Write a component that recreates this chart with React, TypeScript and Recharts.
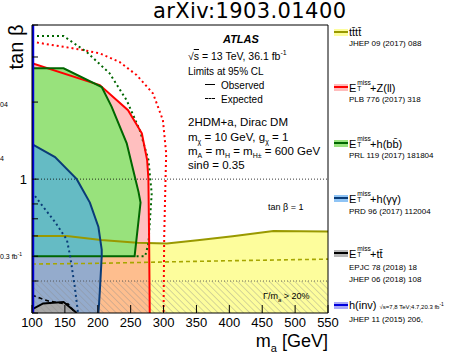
import React from "react";
import { ComposedChart, Area, Line, XAxis, YAxis, ReferenceLine } from "recharts";

// axis ticks
const xTicks = [100, 150, 200, 250, 300, 350, 400, 450, 500, 550];
const xMinorTicks = [
  100, 110, 120, 130, 140, 150, 160, 170, 180, 190, 200, 210, 220, 230, 240, 250, 260, 270, 280, 290, 300,
  310, 320, 330, 340, 350, 360, 370, 380, 390, 400, 410, 420, 430, 440, 450, 460, 470, 480, 490, 500, 510,
  520, 530, 540, 550,
];
const yTicks = [0.3, 0.4, 0.5, 0.6, 0.7, 0.8, 0.9, 1, 2, 3, 4];

// tttt
const ttttObs = [
  { ma: 100, tb: 0.599 }, { ma: 153, tb: 0.599 }, { ma: 205, tb: 0.578 }, { ma: 260, tb: 0.564 },
  { ma: 305, tb: 0.561 }, { ma: 355, tb: 0.578 }, { ma: 405, tb: 0.598 }, { ma: 467, tb: 0.627 },
  { ma: 550, tb: 0.624 },
];
const ttttExp = [
  { ma: 100, tb: 0.466 }, { ma: 200, tb: 0.469 }, { ma: 305, tb: 0.475 }, { ma: 400, tb: 0.48 },
  { ma: 550, tb: 0.487 },
];

// MET + Z(ll)
const zllObs = [
  { ma: 100, tb: 2.84 }, { ma: 203, tb: 2.33 }, { ma: 246, tb: 1.86 }, { ma: 267, tb: 1.51 },
  { ma: 275, tb: 1.19 }, { ma: 277, tb: 1.0 }, { ma: 278, tb: 0.6 }, { ma: 279, tb: 0.3 },
];
const zllExp = [
  { ma: 100, tb: 3.44 }, { ma: 173, tb: 3.21 }, { ma: 203, tb: 3.1 }, { ma: 233, tb: 2.87 },
  { ma: 259, tb: 2.55 }, { ma: 284, tb: 2.16 }, { ma: 299, tb: 1.7 }, { ma: 304, tb: 1.26 },
  { ma: 303, tb: 1.0 }, { ma: 301, tb: 0.6 }, { ma: 300, tb: 0.3 },
];

// MET + h(bb)
const hbbObs = [
  { ma: 100, tb: 2.71 }, { ma: 148, tb: 2.71 }, { ma: 206, tb: 2.29 }, { ma: 221, tb: 1.92 },
  { ma: 244, tb: 1.38 }, { ma: 254, tb: 1.08 }, { ma: 262, tb: 0.89 }, { ma: 265, tb: 0.81 },
  { ma: 256, tb: 0.5 },
];
const hbbClose = [...hbbObs, { ma: 100, tb: 0.5 }];
const hbbExp = [
  { ma: 100, tb: 3.62 }, { ma: 148, tb: 3.62 }, { ma: 183, tb: 3.14 }, { ma: 218, tb: 2.59 },
  { ma: 244, tb: 2.03 }, { ma: 264, tb: 1.55 }, { ma: 277, tb: 1.19 }, { ma: 279, tb: 1.05 },
  { ma: 282, tb: 0.88 }, { ma: 277, tb: 0.56 }, { ma: 272, tb: 0.5 }, { ma: 256, tb: 0.5 },
];

// MET + h(yy)
const hyyObs = [
  { ma: 100, tb: 1.37 }, { ma: 135, tb: 1.22 }, { ma: 168, tb: 1.0 }, { ma: 188, tb: 0.81 },
  { ma: 201, tb: 0.65 }, { ma: 206, tb: 0.53 }, { ma: 206, tb: 0.5 }, { ma: 203, tb: 0.36 },
  { ma: 201, tb: 0.3 },
];
const hyyExp = [
  { ma: 100, tb: 0.89 }, { ma: 117, tb: 0.78 }, { ma: 135, tb: 0.68 }, { ma: 153, tb: 0.58 },
  { ma: 158, tb: 0.5 }, { ma: 165, tb: 0.38 }, { ma: 170, tb: 0.3 },
];

// MET + tt
const ttObs = [
  { ma: 100, tb: 0.31 }, { ma: 117, tb: 0.327 }, { ma: 148, tb: 0.331 }, { ma: 168, tb: 0.3 },
];
const ttExp = [
  { ma: 100, tb: 0.352 }, { ma: 112, tb: 0.343 }, { ma: 125, tb: 0.334 }, { ma: 140, tb: 0.329 },
  { ma: 155, tb: 0.325 }, { ma: 166, tb: 0.3 },
];

// h(inv)
const hinv = [{ ma: 101.5, tb: 0.3 }, { ma: 101.5, tb: 4 }];

// width > 20% region
const wideWidth = [{ ma: 100, tb: 0.4 }, { ma: 550, tb: 0.4 }];

const font = '"Liberation Sans", Arial, Helvetica, sans-serif';

const Txt = ({ x, y, size = 10, children, style }: any) => (
  <div
    style={{
      position: "absolute",
      left: x,
      top: y - size * 0.55,
      fontSize: size,
      lineHeight: 1.1,
      whiteSpace: "nowrap",
      color: "#000",
      ...style,
    }}
  >
    {children}
  </div>
);

const Emiss = () => (
  <span>
    E
    <span style={{ display: "inline-block", position: "relative", width: "1.25em", height: "1em" }}>
      <span style={{ position: "absolute", left: 1, top: "-0.3em", fontSize: "0.6em" }}>miss</span>
      <span style={{ position: "absolute", left: 1, top: "0.6em", fontSize: "0.6em" }}>T</span>
    </span>
  </span>
);

const Patch = ({ y, fill, line }: any) => (
  <div style={{ position: "absolute", left: 334, top: y - 3.5, width: 14, height: 7, background: fill }}>
    <div style={{ position: "absolute", left: 0, top: 2.5, width: 14, height: 2, background: line }} />
  </div>
);

const axisLine = { stroke: "#000", strokeWidth: 1 };

export default function App() {
  return (
    <div
      style={{
        position: "absolute",
        left: 0,
        top: 0,
        width: 460,
        height: 356,
        background: "#fff",
        fontFamily: font,
        overflow: "hidden",
      }}
    >
      <ComposedChart width={460} height={356} margin={{ top: 24, right: 131, bottom: 13, left: 0 }}>
        <defs>
          <pattern id="hatch" patternUnits="userSpaceOnUse" width="4.5" height="4.5" patternTransform="rotate(-45)">
            <line x1="0" y1="0" x2="0" y2="4.5" stroke="#8a8a8a" strokeWidth="0.7" />
          </pattern>
        </defs>
        <XAxis
          dataKey="ma"
          type="number"
          domain={[100, 550]}
          allowDataOverflow
          ticks={xTicks}
          height={30}
          tickSize={-8}
          tickMargin={13}
          axisLine={axisLine}
          tickLine={{ stroke: "#000" }}
          tick={{ fontSize: 13, fill: "#000", fontFamily: font }}
        />
        <XAxis
          xAxisId="top"
          orientation="top"
          dataKey="ma"
          type="number"
          domain={[100, 550]}
          allowDataOverflow
          ticks={xMinorTicks}
          height={1}
          tickSize={-4}
          tick={false}
          axisLine={axisLine}
          tickLine={{ stroke: "#000" }}
        />
        <YAxis
          dataKey="tb"
          type="number"
          scale="log"
          domain={[0.3, 4]}
          allowDataOverflow
          ticks={yTicks}
          width={32}
          tickSize={-6}
          tickMargin={11}
          tickFormatter={(v: number) => (v === 1 ? "1" : "")}
          axisLine={axisLine}
          tickLine={{ stroke: "#000" }}
          tick={{ fontSize: 13, fill: "#000", fontFamily: font }}
        />
        <YAxis
          yAxisId="right"
          orientation="right"
          dataKey="tb"
          type="number"
          scale="log"
          domain={[0.3, 4]}
          allowDataOverflow
          ticks={yTicks}
          width={1}
          tickSize={-6}
          tick={false}
          axisLine={axisLine}
          tickLine={{ stroke: "#000" }}
        />

        <Area data={ttttObs} dataKey="tb" type="linear" baseValue={0.3} fill="#fdfd9c" fillOpacity={1} stroke="none" isAnimationActive={false} />
        <Area data={zllObs} dataKey="tb" type="linear" baseValue={0.3} fill="#ff8080" fillOpacity={0.5} stroke="none" isAnimationActive={false} />
        <Area data={hbbObs} dataKey="tb" type="linear" baseValue={0.5} fill="#98e27c" fillOpacity={1} stroke="none" isAnimationActive={false} />
        <Area data={hyyObs} dataKey="tb" type="linear" baseValue={0.3} fill="#3c9bff" fillOpacity={0.55} stroke="none" isAnimationActive={false} />
        <Area data={ttObs} dataKey="tb" type="linear" baseValue={0.3} fill="#a8a8a8" fillOpacity={1} stroke="none" isAnimationActive={false} />
        <Area data={wideWidth} dataKey="tb" type="linear" baseValue={0.3} fill="url(#hatch)" fillOpacity={1} stroke="#444" strokeWidth={0.8} strokeDasharray="1 2" isAnimationActive={false} />

        <ReferenceLine y={1} stroke="#000" strokeWidth={0.8} strokeDasharray="1 2" />

        <Line data={ttttExp} dataKey="tb" type="linear" stroke="#a6a600" strokeWidth={1.6} strokeDasharray="4 3" dot={false} isAnimationActive={false} />
        <Line data={ttttObs} dataKey="tb" type="linear" stroke="#999900" strokeWidth={2} dot={false} isAnimationActive={false} />
        <Line data={zllExp} dataKey="tb" type="linear" stroke="#ff0000" strokeWidth={2} strokeDasharray="2 3" dot={false} isAnimationActive={false} />
        <Line data={hbbExp} dataKey="tb" type="linear" stroke="#006600" strokeWidth={2} strokeDasharray="2 3" dot={false} isAnimationActive={false} />
        <Line data={zllObs} dataKey="tb" type="linear" stroke="#ff0000" strokeWidth={2} dot={false} isAnimationActive={false} />
        <Line data={hbbClose} dataKey="tb" type="linear" stroke="#006600" strokeWidth={2} dot={false} isAnimationActive={false} />
        <Line data={hyyExp} dataKey="tb" type="linear" stroke="#0a3c78" strokeWidth={2} strokeDasharray="2 3" dot={false} isAnimationActive={false} />
        <Line data={hyyObs} dataKey="tb" type="linear" stroke="#0a3c78" strokeWidth={2} dot={false} isAnimationActive={false} />
        <Line data={ttExp} dataKey="tb" type="linear" stroke="#000" strokeWidth={1.6} strokeDasharray="4 3" dot={false} isAnimationActive={false} />
        <Line data={ttObs} dataKey="tb" type="linear" stroke="#000" strokeWidth={2} dot={false} isAnimationActive={false} />
        <Line data={hinv} dataKey="tb" type="linear" stroke="#0000dd" strokeWidth={2.5} dot={false} isAnimationActive={false} />
      </ComposedChart>

      {/* title and axis labels */}
      <div style={{ position: "absolute", left: 153, top: -1, fontSize: 21, letterSpacing: 0.4, fontFamily: '"DejaVu Sans", sans-serif', whiteSpace: "nowrap" }}>
        arXiv:1903.01400
      </div>
      <div
        style={{
          position: "absolute",
          left: 16,
          top: 47,
          fontSize: 20,
          whiteSpace: "nowrap",
          transform: "translate(-50%, -50%) rotate(-90deg)",
        }}
      >
        tan β
      </div>
      <div style={{ position: "absolute", right: 132, top: 331, fontSize: 18, whiteSpace: "nowrap" }}>
        m<sub style={{ fontSize: 11 }}>a</sub> [GeV]
      </div>

      {/* cut-off labels from neighbouring panel */}
      <Txt x={0} y={105} size={7}>04</Txt>
      <Txt x={0} y={159} size={7}>4</Txt>
      <Txt x={0} y={256} size={7}>0.3 fb<sup style={{ fontSize: 5 }}>-1</sup></Txt>

      {/* annotations */}
      <Txt x={223} y={39} size={11} style={{ fontWeight: "bold", fontStyle: "italic" }}>ATLAS</Txt>
      <Txt x={188} y={55} size={10.5}>
        √<span style={{ textDecoration: "overline" }}>s</span> = 13 TeV, 36.1 fb<sup style={{ fontSize: 7 }}>-1</sup>
      </Txt>
      <Txt x={188} y={71} size={10}>Limits at 95% CL</Txt>
      <div style={{ position: "absolute", left: 205, top: 84, width: 10, borderTop: "1.5px solid #000" }} />
      <Txt x={221} y={85} size={10}>Observed</Txt>
      <div style={{ position: "absolute", left: 205, top: 98, width: 10, borderTop: "1.5px dashed #000" }} />
      <Txt x={221} y={99} size={10}>Expected</Txt>
      <Txt x={188} y={122} size={11.5}>2HDM+a, Dirac DM</Txt>
      <Txt x={188} y={137} size={11.5}>
        m<sub style={{ fontSize: 7 }}>χ</sub> = 10 GeV, g<sub style={{ fontSize: 7 }}>χ</sub> = 1
      </Txt>
      <Txt x={188} y={151} size={11.5}>
        m<sub style={{ fontSize: 7 }}>A</sub> = m<sub style={{ fontSize: 7 }}>H</sub> = m<sub style={{ fontSize: 7 }}>H±</sub> = 600 GeV
      </Txt>
      <Txt x={188} y={165} size={11.5}>sinθ = 0.35</Txt>
      <Txt x={268} y={208} size={9}>tan β = 1</Txt>
      <Txt x={263} y={297} size={9}>
        Γ/m<sub style={{ fontSize: 6 }}>a</sub> &gt; 20%
      </Txt>

      {/* legend */}
      <Patch y={32} fill="#fdfd9c" line="#999900" />
      <Txt x={349} y={32} size={11}>tt̄tt̄</Txt>
      <Txt x={349} y={44} size={8}>JHEP 09 (2017) 088</Txt>

      <Patch y={87} fill="#ffbcbc" line="#ff0000" />
      <Txt x={349} y={87} size={11}><Emiss />+Z(ll)</Txt>
      <Txt x={349} y={100} size={8}>PLB 776 (2017) 318</Txt>

      <Patch y={143} fill="#98e27c" line="#006600" />
      <Txt x={349} y={143} size={11}><Emiss />+h(bb̄)</Txt>
      <Txt x={349} y={156} size={8}>PRL 119 (2017) 181804</Txt>

      <Patch y={198} fill="#8fc4f5" line="#0a3c78" />
      <Txt x={349} y={198} size={11}><Emiss />+h(γγ)</Txt>
      <Txt x={349} y={212} size={8}>PRD 96 (2017) 112004</Txt>

      <Patch y={253} fill="#b8b8b8" line="#000" />
      <Txt x={349} y={253} size={11}><Emiss />+tt̄</Txt>
      <Txt x={349} y={268} size={8}>EPJC 78 (2018) 18</Txt>
      <Txt x={349} y={280} size={8}>JHEP 06 (2018) 108</Txt>

      <Patch y={305} fill="#a9a9f5" line="#0000dd" />
      <Txt x={349} y={305} size={11}>
        h(inv) <span style={{ fontSize: 6 }}>√s=7,8 TeV;4.7,20.3 fb<sup style={{ fontSize: 5 }}>-1</sup></span>
      </Txt>
      <Txt x={349} y={320} size={8}>JHEP 11 (2015) 206,</Txt>
    </div>
  );
}
